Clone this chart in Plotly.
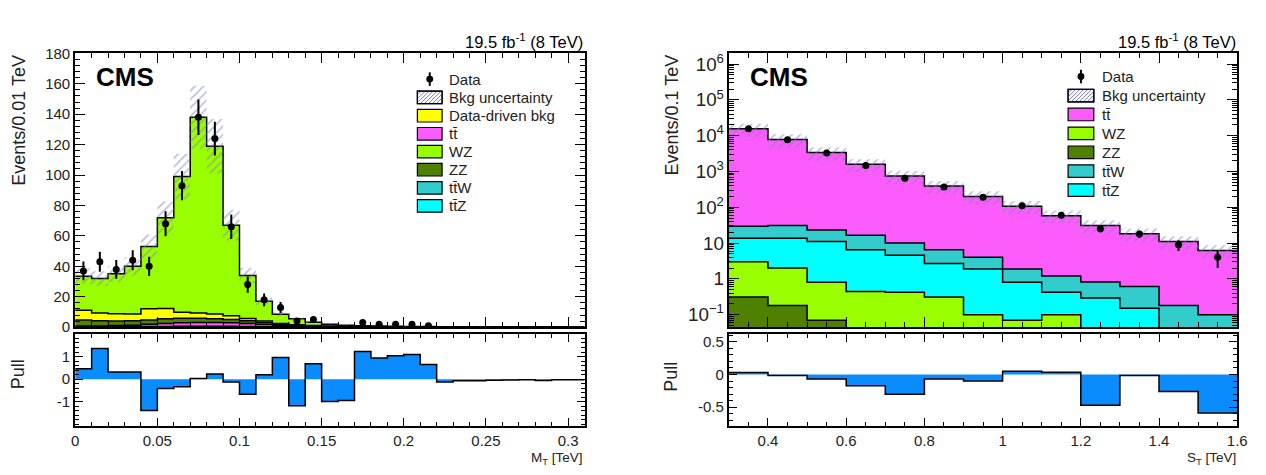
import numpy as np
import plotly.graph_objects as go

W, H = 1266, 475
FONT = "Liberation Sans, Arial, Helvetica, sans-serif"

# ---------------- Left panel: M_T (bins of 0.01 TeV) ----------------
mt_edges = np.linspace(0.0, 0.31, 32)
mt_data = [37, 43, 38, 44, 40, 68, 93, 138, 124, 66, 28, 18, 13, 4, 5, None, None,
           3, 2, 2, 2, 1, None, None, None, None, None, None, None, None, None]
mt_data_err = [6.1, 6.6, 6.2, 6.6, 6.3, 8.2, 9.6, 11.7, 11.1, 8.1, 5.3, 4.2, 3.6, 2.0, 2.2, None, None,
               1.7, 1.4, 1.4, 1.4, 1.0, None, None, None, None, None, None, None, None, None]
# stack components, bottom -> top
mt_ttz = [0.1, 0.1, 0.15, 0.2, 0.25, 0.3, 0.35, 0.4, 0.4, 0.35, 0.3, 0.2, 0.15, 0.1, 0.08, 0.06,
          0.05, 0.04, 0.03, 0.02, 0.02, 0.02, 0.01, 0.01, 0.01, 0.01, 0.01, 0.01, 0.01, 0.01, 0.01]
mt_ttw = [0.1, 0.1, 0.1, 0.15, 0.15, 0.2, 0.2, 0.2, 0.2, 0.2, 0.15, 0.1, 0.1, 0.05, 0.05, 0.04,
          0.03, 0.03, 0.02, 0.02, 0.01, 0.01, 0.01, 0.01, 0.01, 0.01, 0.01, 0.0, 0.0, 0.0, 0.0]
mt_tt = [0.5, 0.6, 0.8, 1.0, 1.5, 2.0, 2.3, 2.5, 2.5, 2.3, 2.0, 1.5, 0.8, 0.5, 0.3, 0.2,
         0.15, 0.1, 0.08, 0.06, 0.05, 0.04, 0.03, 0.03, 0.02, 0.02, 0.02, 0.01, 0.01, 0.01, 0.01]
mt_zz = [4.0, 3.5, 3.0, 2.8, 2.8, 3.0, 3.0, 2.8, 2.5, 2.2, 1.8, 1.2, 0.8, 0.5, 0.3, 0.2,
         0.15, 0.12, 0.1, 0.08, 0.07, 0.06, 0.05, 0.04, 0.03, 0.03, 0.02, 0.02, 0.02, 0.02, 0.01]
mt_dd = [6.5, 5.0, 4.8, 4.5, 7.5, 6.8, 4.0, 3.5, 3.0, 2.5, 1.5, 1.0, 0.6, 0.4, 0.3, 0.2,
         0.15, 0.12, 0.1, 0.08, 0.07, 0.06, 0.05, 0.04, 0.03, 0.03, 0.02, 0.02, 0.02, 0.01, 0.01]
mt_wz = [22.3, 22.7, 26.2, 31.4, 40.8, 59.7, 89.2, 128.6, 110.4, 59.5, 28.2, 13.0, 6.0, 4.0, 2.2, 1.3,
         0.8, 0.6, 0.47, 0.34, 0.28, 0.21, 0.15, 0.12, 0.1, 0.08, 0.06, 0.05, 0.04, 0.03, 0.03]
mt_unc = [5.0, 4.8, 5.3, 6.0, 8.0, 10.8, 14.9, 20.7, 17.9, 10.1, 5.1, 2.6, 1.3, 0.8, 0.5, 0.3,
          0.2, 0.15, 0.12, 0.09, 0.08, 0.06, 0.05, 0.04, 0.03, 0.03, 0.02, 0.02, 0.02, 0.01, 0.01]
mt_pull = [0.46, 1.36, 0.32, 0.32, -1.39, -0.41, -0.33, 0.03, 0.23, -0.12, -0.67, 0.2, 0.96, -1.17,
           0.68, -0.99, -0.94, 1.22, 0.94, 1.04, 1.09, 0.65, -0.12, -0.07, -0.07, -0.05, -0.04,
           -0.03, -0.06, -0.03, -0.02]

# ---------------- Right panel: S_T (bins of 0.1 TeV) ----------------
st_edges = np.linspace(0.3, 1.6, 14)
st_data = [15600, 7700, 3300, 1480, 650, 370, 192, 110, 60, 25, 18, 9, 4]
st_data_err = [125, 88, 57, 38.5, 25.5, 19.2, 13.9, 10.5, 7.7, 5.0, 4.2, 3.0, 2.0]
st_zz = [0.31, 0.18, 0.07, 0.04, 0.03, 0.02, 0.015, 0.01, 0.01, 0.008, 0.006, 0.005, 0.004]
st_wz = [2.69, 1.82, 0.74, 0.40, 0.39, 0.29, 0.085, 0.06, 0.09, 0.022, 0.014, 0.01, 0.006]
st_ttz = [10.6, 11.6, 10.2, 6.06, 4.18, 2.39, 1.8, 0.74, 0.32, 0.26, 0.13, 0.025, 0.02]
st_ttw = [15.8, 17.4, 12.0, 10.0, 5.4, 3.8, 2.1, 1.09, 0.78, 0.53, 0.46, 0.14, 0.07]
st_tt = [15470, 7769, 3377, 1563.5, 740, 383.5, 196, 105.1, 56.8, 30.2, 17.6, 10.9, 6.1]
st_unc = [6200, 3100, 1360, 630, 300, 156, 80, 43, 23, 12.4, 7.3, 4.4, 2.5]
st_pull = [0.03, -0.015, -0.07, -0.17, -0.3, -0.07, -0.1, 0.05, 0.035, -0.47, -0.015, -0.26, -0.59]

C_DD = "#ffff00"
C_TT = "#fb5cfb"
C_WZ = "#99ff00"
C_ZZ = "#4f8000"
C_TTW = "#33cccc"
C_TTZ = "#00ffff"
C_PULL = "#0a8cff"
C_HATCH = "#8080c0"

fig = go.Figure()


def ext(v):
    v = list(v)
    return v + [v[-1]]


def add_stack(edges, comps, colors, base, xa, ya):
    x = list(edges)
    n = len(edges) - 1
    fig.add_trace(go.Scatter(x=x, y=[base] * (n + 1), mode="lines",
                             line=dict(width=0, shape="hv"), xaxis=xa, yaxis=ya,
                             showlegend=False, hoverinfo="skip"))
    cum = np.zeros(n)
    for vals, col in zip(comps, colors):
        cum = cum + np.asarray(vals, dtype=float)
        fig.add_trace(go.Scatter(x=x, y=ext(cum), mode="lines",
                                 line=dict(color="black", width=1.5, shape="hv"),
                                 fill="tonexty", fillcolor=col, xaxis=xa, yaxis=ya,
                                 showlegend=False, hoverinfo="skip"))
    return cum


def add_band(edges, total, unc, xa, ya):
    unc = np.asarray(unc, dtype=float)
    fig.add_trace(go.Scatter(x=list(edges), y=ext(total - unc), mode="lines",
                             line=dict(width=0, shape="hv"), xaxis=xa, yaxis=ya,
                             showlegend=False, hoverinfo="skip"))
    fig.add_trace(go.Scatter(x=list(edges), y=ext(total + unc), mode="lines",
                             line=dict(width=0, shape="hv"), fill="tonexty",
                             fillcolor="rgba(0,0,0,0)",
                             fillpattern=dict(shape="/", fgcolor=C_HATCH, bgcolor="rgba(0,0,0,0)",
                                              size=6, solidity=0.3),
                             xaxis=xa, yaxis=ya, showlegend=False, hoverinfo="skip"))


def add_data(edges, data, err, xa, ya):
    centers = (edges[:-1] + edges[1:]) / 2
    fig.add_trace(go.Scatter(x=centers, y=data, mode="markers",
                             marker=dict(color="black", size=7),
                             error_y=dict(type="data", array=err, color="black", thickness=2, width=0),
                             xaxis=xa, yaxis=ya, showlegend=False))


def add_pull(edges, pull, xa, ya):
    fig.add_trace(go.Scatter(x=list(edges), y=ext(pull), mode="lines",
                             line=dict(color="black", width=1.5, shape="hv"),
                             fill="tozeroy", fillcolor=C_PULL, xaxis=xa, yaxis=ya,
                             showlegend=False, hoverinfo="skip"))


# left
mt_total = add_stack(mt_edges, [mt_ttz, mt_ttw, mt_tt, mt_zz, mt_dd, mt_wz],
                     [C_TTZ, C_TTW, C_TT, C_ZZ, C_DD, C_WZ], 0.0, "x", "y")
add_band(mt_edges, mt_total, mt_unc, "x", "y")
add_data(mt_edges, mt_data, mt_data_err, "x", "y")
add_pull(mt_edges, mt_pull, "x2", "y2")

# right
st_total = add_stack(st_edges, [st_zz, st_wz, st_ttz, st_ttw, st_tt],
                     [C_ZZ, C_WZ, C_TTZ, C_TTW, C_TT], 1e-4, "x3", "y3")
add_band(st_edges, st_total, st_unc, "x3", "y3")
add_data(st_edges, st_data, st_data_err, "x3", "y3")
add_pull(st_edges, st_pull, "x4", "y4")

# ---------------- layout ----------------
LX = [72 / W, 587 / W]
RX = [733 / W, 1247 / W]
MAIN_Y = [1 - 330 / H, 1 - 46 / H]
PULL_Y = [1 - 432 / H, 1 - 337 / H]
TICKFONT = dict(family=FONT, size=15, color="#222")


def axis(domain, anchor, rng, major_len, minor_len, **kw):
    d = dict(domain=domain, anchor=anchor, range=rng, showline=True, linecolor="black",
             linewidth=2, mirror="ticks", ticks="inside", ticklen=major_len, tickwidth=1.3,
             tickcolor="black", showgrid=False, zeroline=False, tickfont=TICKFONT,
             fixedrange=True)
    minor = kw.pop("minor", None)
    if minor is not None:
        minor.update(ticks="inside", ticklen=minor_len, tickwidth=1.1, tickcolor="black",
                     showgrid=False)
        d["minor"] = minor
    d.update(kw)
    return d


fig.update_layout(
    width=W, height=H, margin=dict(l=0, r=0, t=0, b=0),
    paper_bgcolor="white", plot_bgcolor="white", showlegend=False,
    font=dict(family=FONT, color="black"),
    xaxis=axis(LX, "y", [0, 0.31], 10, 5, tick0=0, dtick=0.05, showticklabels=False,
               minor=dict(tick0=0, dtick=0.01)),
    yaxis=axis(MAIN_Y, "x", [0, 180], 10, 5, tick0=0, dtick=20,
               minor=dict(tick0=0, dtick=4)),
    xaxis2=axis(LX, "y2", [0, 0.31], 8, 4, tick0=0, dtick=0.05,
                minor=dict(tick0=0, dtick=0.01)),
    yaxis2=axis(PULL_Y, "x2", [-2.05, 2.0], 8, 4, tickmode="array", tickvals=[-1, 0, 1],
                ticktext=["-1", "0", "1"], minor=dict(tickmode="linear", tick0=0, dtick=0.2)),
    xaxis3=axis(RX, "y3", [0.3, 1.6], 10, 5, tick0=0, dtick=0.2, showticklabels=False,
                minor=dict(tick0=0, dtick=0.05)),
    yaxis3=axis(MAIN_Y, "x3", [-1.35, 6.3], 10, 5, type="log", dtick=1,
                exponentformat="power", minor=dict(dtick="D1")),
    xaxis4=axis(RX, "y4", [0.3, 1.6], 8, 4, tick0=0, dtick=0.2,
                minor=dict(tick0=0, dtick=0.05)),
    yaxis4=axis(PULL_Y, "x4", [-0.78, 0.62], 8, 4, tickmode="array", tickvals=[-0.5, 0, 0.5],
                ticktext=["-0.5", "0", "0.5"], minor=dict(tickmode="linear", tick0=0, dtick=0.1)),
)


def P(x, y):
    return x / W, 1 - y / H


annots = []
shapes = []


def text(x, y, s, size, xanchor="left", yanchor="middle", angle=0, color="black"):
    px_, py_ = P(x, y)
    annots.append(dict(x=px_, y=py_, xref="paper", yref="paper", text=s, showarrow=False,
                       xanchor=xanchor, yanchor=yanchor, textangle=angle,
                       font=dict(family=FONT, size=size, color=color)))


# lumi labels
text(588, 33, "19.5 fb<sup>-1</sup> (8 TeV)", 16.5, xanchor="right")
text(1248, 33, "19.5 fb<sup>-1</sup> (8 TeV)", 16.5, xanchor="right")
# CMS
text(91, 71, "<b>CMS</b>", 26)
text(752, 71, "<b>CMS</b>", 26)
# axis titles
text(15, 45, "Events/0.01 TeV", 18, xanchor="center", yanchor="top", angle=-90, color="#222")
text(15, 379, "Pull", 18, xanchor="center", angle=-90, color="#222")
text(675, 45, "Events/0.1 TeV", 18, xanchor="center", yanchor="top", angle=-90, color="#222")
text(675, 382, "Pull", 18, xanchor="center", angle=-90, color="#222")
text(588, 466, "M<sub>T</sub> [TeV]", 13.5, xanchor="right", color="#222")
text(1248, 466, "S<sub>T</sub> [TeV]", 13.5, xanchor="right", color="#222")


def rect(x0, y0, x1, y1, fill, lw=1.2):
    a, b = P(x0, y1)
    c, d = P(x1, y0)
    shapes.append(dict(type="rect", xref="paper", yref="paper", x0=a, y0=b, x1=c, y1=d,
                       fillcolor=fill, line=dict(color="black", width=lw)))


def seg(x0, y0, x1, y1, color, w):
    a, b = P(x0, y0)
    c, d = P(x1, y1)
    shapes.append(dict(type="line", xref="paper", yref="paper", x0=a, y0=b, x1=c, y1=d,
                       line=dict(color=color, width=w)))


def legend(items, bx0, bx1, tx, rows, hh=6.5):
    for (label, kind), ry in zip(items, rows):
        if kind == "data":
            cx = (bx0 + bx1) / 2
            seg(cx, ry - 7, cx, ry + 7, "black", 2)
            a, b = P(cx - 3.5, ry + 3.5)
            c, d = P(cx + 3.5, ry - 3.5)
            shapes.append(dict(type="circle", xref="paper", yref="paper", x0=a, y0=b, x1=c,
                               y1=d, fillcolor="black", line=dict(color="black", width=0)))
        elif kind == "hatch":
            y0, y1 = ry - hh, ry + hh
            rect(bx0, y0, bx1, y1, "white")
            s = 4.0
            cval = bx0 + y0 + s
            while cval < bx1 + y1:
                xa = max(bx0, cval - y1)
                xb = min(bx1, cval - y0)
                if xb > xa:
                    seg(xa, cval - xa, xb, cval - xb, C_HATCH, 1)
                cval += s
            rect(bx0, y0, bx1, y1, "rgba(0,0,0,0)")
        else:
            rect(bx0, ry - hh, bx1, ry + hh, kind)
        text(tx, ry, label, 15, color="#222")


TTBAR = "tt\u0304"
legend([("Data", "data"), ("Bkg uncertainty", "hatch"), ("Data-driven bkg", C_DD),
        (TTBAR, C_TT), ("WZ", C_WZ), ("ZZ", C_ZZ), (TTBAR + "W", C_TTW), (TTBAR + "Z", C_TTZ)],
       418, 443, 448, [72.7, 91.7, 110.7, 129.4, 148.0, 166.7, 185.5, 204.2])
legend([("Data", "data"), ("Bkg uncertainty", "hatch"), (TTBAR, C_TT), ("WZ", C_WZ),
        ("ZZ", C_ZZ), (TTBAR + "W", C_TTW), (TTBAR + "Z", C_TTZ)],
       1076, 1102, 1108, [70.0, 89.8, 109.4, 129.0, 148.6, 168.2, 187.8])

fig.update_layout(annotations=annots, shapes=shapes)
fig.write_html("out.html")
